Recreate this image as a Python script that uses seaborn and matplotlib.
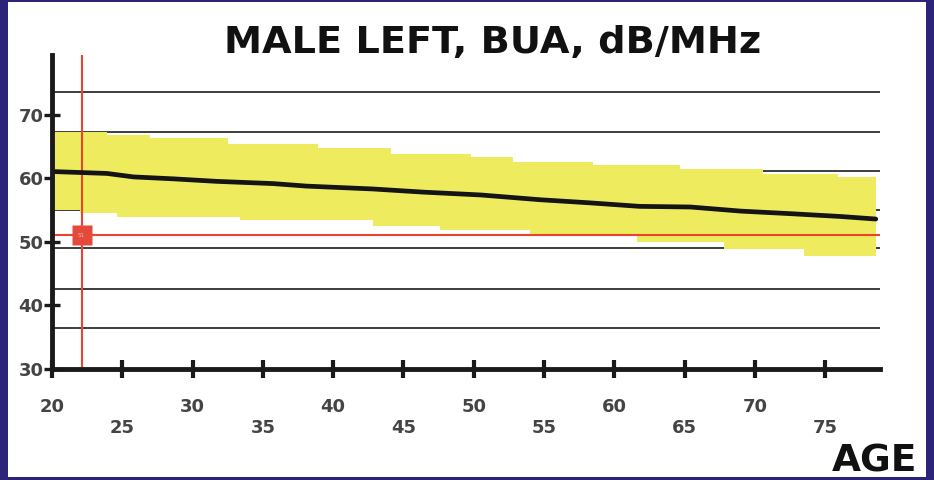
import numpy as np
import pandas as pd
import matplotlib
matplotlib.use("Agg")
import matplotlib.pyplot as plt
from matplotlib.patches import Rectangle
import seaborn as sns

# Reference curve for BUA (dB/MHz) by age, left heel, male
mean_age = [20, 23.9, 25.8, 28.6, 31.7, 35.7, 38.1, 42.8, 46.4, 50.5, 54.7,
            58.3, 61.8, 65.4, 69.0, 72.5, 76.1, 78.6]
mean_bua = [61.1, 60.8, 60.25, 59.95, 59.55, 59.2, 58.8, 58.35, 57.85, 57.4,
            56.65, 56.15, 55.6, 55.5, 54.85, 54.45, 54.0, 53.6]

# Normal range band (stepped edges): start age of each step and its level
upper_age = [20, 23.9, 27.0, 32.5, 38.9, 44.1, 49.8, 52.8, 58.5, 64.7, 70.6, 75.9]
upper_bua = [67.4, 66.9, 66.35, 65.5, 64.85, 63.9, 63.4, 62.65, 62.1, 61.45, 60.75, 60.2]
lower_age = [20, 22.0, 24.6, 33.4, 42.8, 47.6, 54.0, 61.6, 67.8, 73.5]
lower_bua = [55.0, 54.5, 53.95, 53.4, 52.5, 51.8, 50.85, 50.0, 48.85, 47.8]
band_end_age = 78.6

# Printed chart rules
rule_levels = [36.4, 42.55, 48.95, 55.1, 61.2, 67.4, 73.6]

# Patient measurement
patient_age = 22.1
patient_bua = 51
patient_label = "51"

x_ticks = [20, 25, 30, 35, 40, 45, 50, 55, 60, 65, 70, 75]
y_ticks = [30, 40, 50, 60, 70]
title = "MALE LEFT, BUA, dB/MHz"
x_label = "AGE"

sns.set_style("white")
plt.rcParams["font.family"] = ["DejaVu Sans"]

W, H = 934, 480
fig = plt.figure(figsize=(W / 100, H / 100), dpi=100)
fig.patch.set_facecolor("#2b2479")
fig.patches.append(Rectangle((8 / W, 3 / H), (926 - 8) / W, (478 - 3) / H,
                             transform=fig.transFigure, facecolor="white",
                             edgecolor="none", zorder=-10))

ax_l, ax_r, ax_t, ax_b = 52, 880, 55, 368.5
ax = fig.add_axes([ax_l / W, (H - ax_b) / H, (ax_r - ax_l) / W, (ax_b - ax_t) / H])
ax.set_zorder(5)
ax.set_facecolor("none")
ax.set_xlim(20, 78.9)
ax.set_ylim(30, 79.5)

# horizontal rules under the band
for lv in rule_levels:
    ax.axhline(lv, color="#2e2e2e", lw=1.3, zorder=1)

# stepped band between lower and upper edges
edges = sorted(set(upper_age) | set(lower_age)) + [band_end_age]
edges = np.array(edges)
up = np.array(upper_bua)[np.searchsorted(upper_age, edges, side="right") - 1]
lo = np.array(lower_bua)[np.searchsorted(lower_age, edges, side="right") - 1]
ax.fill_between(edges, lo, up, step="post", color="#efeb5e", lw=0, zorder=2)

# mean curve
curve = pd.DataFrame({"age": mean_age, "bua": mean_bua})
sns.lineplot(data=curve, x="age", y="bua", ax=ax, color="#141414", lw=3.4,
             zorder=4)

# patient crosshair and marker
red = "#e8452f"
ax.axvline(patient_age, color=red, lw=1.5, zorder=3)
ax.axhline(patient_bua, color=red, lw=1.5, zorder=3)
ax.plot([patient_age], [patient_bua], marker="s", ms=15, color="#e5493b",
        mec="none", zorder=5)
ax.text(patient_age, patient_bua, patient_label, fontsize=4, color="#f6b7ae",
        ha="center", va="center", zorder=6)

# axes
for s in ["top", "right"]:
    ax.spines[s].set_visible(False)
for s in ["left", "bottom"]:
    ax.spines[s].set_color("#1a1a1a")
    ax.spines[s].set_linewidth(3.5)
    ax.spines[s].set_zorder(7)

ax.set_yticks(y_ticks)
ax.set_yticklabels([str(v) for v in y_ticks])
ax.set_xticks(x_ticks)
ax.set_xticklabels([str(v) if i % 2 == 0 else "\n" + str(v)
                    for i, v in enumerate(x_ticks)])
ax.tick_params(axis="y", left=True, direction="inout", length=12, width=2.4,
               color="#1a1a1a", pad=0, labelsize=13, labelcolor="#444444")
ax.tick_params(axis="x", bottom=True, direction="inout", length=13, width=3,
               color="#1a1a1a", pad=15, labelsize=13, labelcolor="#444444")
for lab in ax.get_xticklabels() + ax.get_yticklabels():
    lab.set_fontweight("bold")
ax.set_xlabel("")
ax.set_ylabel("")

fig.text(493 / W, (H - 53) / H, title, ha="center", va="baseline",
         fontsize=27.5, fontweight="bold", color="#111111")
fig.text(917 / W, (H - 472) / H, x_label, ha="right", va="baseline",
         fontsize=27, fontweight="bold", color="#111111")

fig.savefig("out.png", dpi=100, facecolor=fig.get_facecolor())
